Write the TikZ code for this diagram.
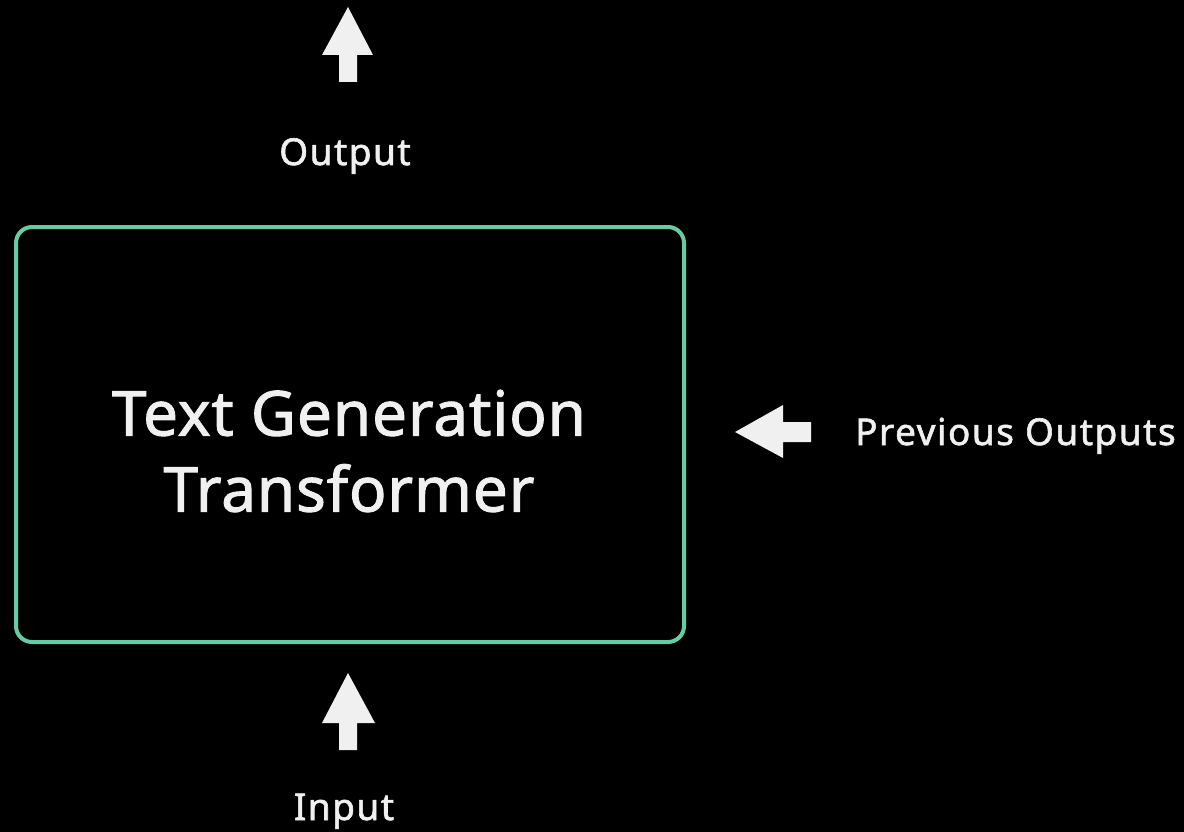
\documentclass[tikz,border=0pt]{standalone}
\usepackage{fontspec}
\setmainfont{Noto Sans}
\newfontfamily\titlefont[FakeBold=1.6,LetterSpace=1.5]{Noto Sans}
\newfontfamily\labelfont[FakeBold=1.6,LetterSpace=4]{Noto Sans}
\definecolor{boxgreen}{RGB}{102,204,164}
\definecolor{ink}{RGB}{240,240,240}
\begin{document}
\begin{tikzpicture}[x=1pt,y=-1pt,
  lbl/.style={text=ink,font=\labelfont\fontsize{37}{44}\selectfont,inner sep=0pt},
  blockarrow/.style={fill=ink}]
% canvas
\fill[black] (0,0) rectangle (1184,832);
\useasboundingbox (0,0) rectangle (1184,832);

% model box
\node[draw=boxgreen,line width=4pt,rounded corners=16pt,
      minimum width=668pt,minimum height=415pt,inner sep=0pt] (box) at (350,434.5) {};
\node[text=ink,font=\titlefont\fontsize{62}{76}\selectfont,align=center,inner sep=0pt]
      (title) at (349,451) {Text Generation\\Transformer};

% labels
\node[lbl,anchor=base] (out) at (345,165) {Output};
\node[lbl,anchor=base] (inp) at (344,820) {Input};
\node[lbl,anchor=base west] (prev) at (855,445) {Previous Outputs};

% block arrows
\fill[blockarrow] (348,7) -- (373,55) -- (357,55) -- (357,82) -- (339,82) -- (339,55) -- (322,55) -- cycle;
\fill[blockarrow] (348,673) -- (375,723) -- (357,723) -- (357,750) -- (339,750) -- (339,723) -- (322,723) -- cycle;
\fill[blockarrow] (735,432) -- (783,405) -- (783,422) -- (811,422) -- (811,442) -- (783,442) -- (783,458) -- cycle;
\end{tikzpicture}
\end{document}
